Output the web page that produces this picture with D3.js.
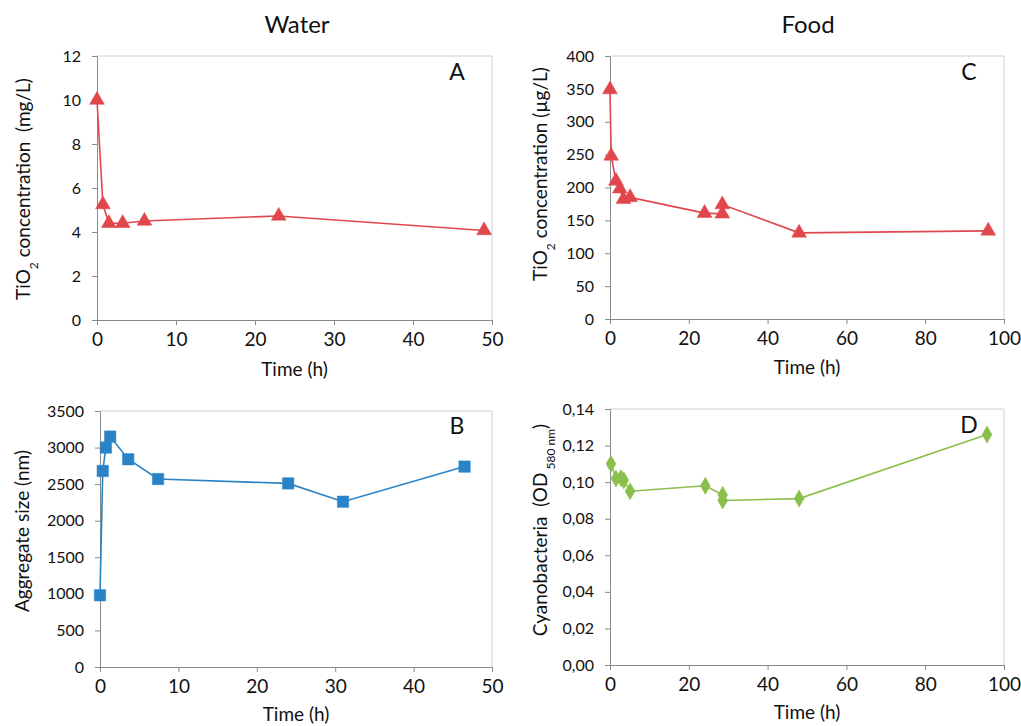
<!DOCTYPE html>
<html>
<head>
<meta charset="utf-8">
<script src="https://cdn.jsdelivr.net/npm/d3@7"></script>
<style>
  html, body { margin: 0; padding: 0; background: #fff; }
  svg { display: block; }
  text { font-family: Lato, "Open Sans", sans-serif; fill: #111; white-space: pre; }
</style>
</head>
<body>
<svg id="chart" width="1021" height="726"></svg>
<script>
// Panel A: TiO2 in water (mg/L)
const timeA = [0, 0.75, 1.5, 3.25, 6, 23, 49];
const concA = [10, 5.25, 4.4, 4.4, 4.5, 4.73, 4.07];
// Panel B: aggregate size (nm)
const timeB = [0, 0.35, 0.75, 1.3, 3.6, 7.4, 24, 31, 46.5];
const sizeB = [980, 2680, 3000, 3150, 2840, 2570, 2510, 2260, 2740];
// Panel C: TiO2 in food (µg/L)
const timeC = [0, 0.3, 1.5, 2.5, 3.4, 5.1, 24, 28.5, 28.5, 48, 96];
const concC = [349, 248, 210, 198, 182, 185, 161, 160, 174, 131, 134];
// Panel D: cyanobacteria OD580
const timeD = [0.25, 1.5, 2.8, 3.5, 5.1, 24.2, 28.6, 28.6, 48, 95.7];
const odD = [0.110, 0.102, 0.1022, 0.101, 0.095, 0.098, 0.093, 0.090, 0.091, 0.126];

const ticksA = [0, 2, 4, 6, 8, 10, 12];
const ticksB = [0, 500, 1000, 1500, 2000, 2500, 3000, 3500];
const ticksC = [0, 50, 100, 150, 200, 250, 300, 350, 400];
const ticksD = [0, 0.02, 0.04, 0.06, 0.08, 0.10, 0.12, 0.14];
const xTicks50 = [0, 10, 20, 30, 40, 50];
const xTicks100 = [0, 20, 40, 60, 80, 100];

const svg = d3.select("#chart");

function panel(cfg) {
  const g = svg.append("g");
  const x = d3.scaleLinear().domain(cfg.xDomain).range([cfg.left, cfg.right]);
  const y = d3.scaleLinear().domain(cfg.yDomain).range([cfg.bottom, cfg.top]);

  // plot area border (top/right)
  g.append("path")
    .attr("d", `M${cfg.left},${cfg.top}H${cfg.right}V${cfg.bottom}`)
    .attr("fill", "none").attr("stroke", "#d0d0d0").attr("stroke-width", 1);

  const yAxis = d3.axisLeft(y).tickValues(cfg.yTicks).tickSizeOuter(0).tickSize(5).tickPadding(11)
    .tickFormat(cfg.yFormat);
  const gy = g.append("g").attr("transform", `translate(${cfg.left},0)`).call(yAxis);
  gy.selectAll("path, line").attr("stroke", "#8a8a8a");
  gy.selectAll("text").style("font-size", "16px").attr("fill", "#111");

  const xAxis = d3.axisBottom(x).tickValues(cfg.xTicks).tickSizeOuter(0).tickSize(5).tickPadding(8);
  const gx = g.append("g").attr("transform", `translate(0,${cfg.bottom})`).call(xAxis);
  gx.selectAll("path, line").attr("stroke", "#8a8a8a");
  gx.selectAll("text").style("font-size", "19px").attr("fill", "#111");

  // x label
  g.append("text").attr("x", (cfg.left + cfg.right) / 2).attr("y", cfg.bottom + cfg.xLabelDy)
    .attr("text-anchor", "middle").style("font-size", "19px").text("Time (h)");

  // y label
  const yl = g.append("text")
    .attr("transform", `translate(${cfg.yLabelX},${cfg.yLabelY}) rotate(-90)`)
    .attr("text-anchor", "middle").style("font-size", "19px");
  cfg.yLabel(yl);

  // panel letter
  g.append("text").attr("x", cfg.letterX).attr("y", cfg.letterY)
    .attr("text-anchor", "middle").style("font-size", "23px").text(cfg.letter);

  const pts = cfg.xs.map((d, i) => [d, cfg.ys[i]]);
  g.append("path").datum(pts)
    .attr("d", d3.line().x(d => x(d[0])).y(d => y(d[1])))
    .attr("fill", "none").attr("stroke", cfg.color).attr("stroke-width", 1.6);

  g.selectAll(".m").data(pts).enter().append("path")
    .attr("transform", d => `translate(${x(d[0])},${y(d[1])})`)
    .attr("d", d3.symbol().type(cfg.symbol).size(cfg.symbolSize))
    .attr("fill", cfg.color).attr("stroke", cfg.color).attr("stroke-width", 0.5);
}

const intFmt = d3.format("d");
const odFmt = d => d.toFixed(2).replace(".", ",");

panel({
  left: 97, right: 492, top: 56, bottom: 320,
  xDomain: [0, 50], yDomain: [0, 12], xTicks: xTicks50, yTicks: ticksA, yFormat: intFmt,
  xs: timeA, ys: concA, color: "#e0474c", symbol: d3.symbolTriangle, symbolSize: 95,
  xLabelDy: 56, yLabelX: 30, yLabelY: 189, letter: "A", letterX: 457, letterY: 80,
  yLabel: t => {
    t.append("tspan").text("TiO");
    t.append("tspan").attr("baseline-shift", "sub").style("font-size", "12px").text("2");
    t.append("tspan").text(" concentration  (mg/L)");
  }
});

panel({
  left: 100, right: 492, top: 411, bottom: 667,
  xDomain: [0, 50], yDomain: [0, 3500], xTicks: xTicks50, yTicks: ticksB, yFormat: intFmt,
  xs: timeB, ys: sizeB, color: "#2a83c6", symbol: d3.symbolSquare, symbolSize: 130,
  xLabelDy: 54, yLabelX: 29, yLabelY: 531, letter: "B", letterX: 457, letterY: 434,
  yLabel: t => { t.text("Aggregate size (nm)"); }
});

panel({
  left: 610, right: 1004, top: 56, bottom: 319,
  xDomain: [0, 100], yDomain: [0, 400], xTicks: xTicks100, yTicks: ticksC, yFormat: intFmt,
  xs: timeC, ys: concC, color: "#e0474c", symbol: d3.symbolTriangle, symbolSize: 95,
  xLabelDy: 55, yLabelX: 547, yLabelY: 174, letter: "C", letterX: 969, letterY: 80,
  yLabel: t => {
    t.append("tspan").text("TiO");
    t.append("tspan").attr("baseline-shift", "sub").style("font-size", "12px").text("2");
    t.append("tspan").text(" concentration (µg/L)");
  }
});

panel({
  left: 610, right: 1004, top: 409, bottom: 665,
  xDomain: [0, 100], yDomain: [0, 0.14], xTicks: xTicks100, yTicks: ticksD, yFormat: odFmt,
  xs: timeD, ys: odD, color: "#8bbf4c", symbol: d3.symbolDiamond, symbolSize: 85,
  xLabelDy: 54, yLabelX: 547, yLabelY: 530, letter: "D", letterX: 969, letterY: 433,
  yLabel: t => {
    t.append("tspan").text("Cyanobacteria  (OD");
    t.append("tspan").attr("baseline-shift", "sub").style("font-size", "12px").text(" 580 nm");
    t.append("tspan").attr("baseline-shift", "0").text(")");
  }
});

// column titles
svg.append("text").attr("x", 297).attr("y", 33).attr("text-anchor", "middle")
  .style("font-size", "24px").text("Water");
svg.append("text").attr("x", 808).attr("y", 33).attr("text-anchor", "middle")
  .style("font-size", "24px").text("Food");
</script>
</body>
</html>
